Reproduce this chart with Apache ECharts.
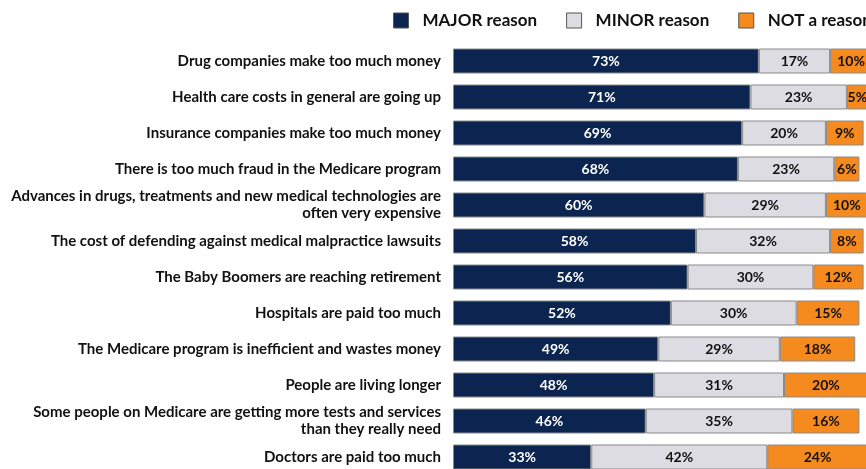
<!DOCTYPE html>
<html><head><meta charset="utf-8">
<script src="https://cdn.jsdelivr.net/npm/echarts@6/dist/echarts.min.js"></script>
<style>html,body{margin:0;padding:0;background:#fff}#c{width:866px;height:469px}</style>
</head><body><div id="c"></div>
<script>
const categories = [
  "Drug companies make too much money",
  "Health care costs in general are going up",
  "Insurance companies make too much money",
  "There is too much fraud in the Medicare program",
  "Advances in drugs, treatments and new medical technologies are\noften very expensive",
  "The cost of defending against medical malpractice lawsuits",
  "The Baby Boomers are reaching retirement",
  "Hospitals are paid too much",
  "The Medicare program is inefficient and wastes money",
  "People are living longer",
  "Some people on Medicare are getting more tests and services\nthan they really need",
  "Doctors are paid too much"
];
const majorReason = [73, 71, 69, 68, 60, 58, 56, 52, 49, 48, 46, 33];
const minorReason = [17, 23, 20, 23, 29, 32, 30, 30, 29, 31, 35, 42];
const notReason   = [10, 5, 9, 6, 10, 8, 12, 15, 18, 20, 16, 24];
const seriesNames = ["MAJOR reason", "MINOR reason", "NOT a reason"];

const FONT = "Lato";
const colors = ["#0c2550", "#dcdce2", "#f58a1f"];
const labelColors = ["#ffffff", "#111111", "#111111"];
const datasets = [majorReason, minorReason, notReason];

const legendText = { fontFamily: FONT, fontWeight: 'bold', fontSize: 17, color: '#111', padding: [0, 0, 0, 9] };

const chart = echarts.init(document.getElementById('c'));
chart.setOption({
  animation: false,
  textStyle: { fontFamily: FONT },
  legend: {
    left: 393, top: 12, width: 700, orient: 'horizontal', padding: 0,
    itemWidth: 15, itemHeight: 15, itemGap: 29,
    textStyle: legendText,
    data: seriesNames.map((n, i) => ({ name: n, icon: 'rect', textStyle: legendText, itemStyle: { borderColor: '#555', borderWidth: 1 } }))
  },
  grid: { left: 453, top: 43, width: 419, height: 432, containLabel: false, outerBoundsMode: 'none' },
  xAxis: { type: 'value', min: 0, max: 100, show: false },
  yAxis: {
    type: 'category', data: categories, inverse: true,
    axisLine: { show: false }, axisTick: { show: false },
    axisLabel: { margin: 12, fontFamily: FONT, fontWeight: 'bold', fontSize: 15, color: '#111', lineHeight: 17, align: 'right' }
  },
  series: seriesNames.map((n, i) => ({
    name: n, type: 'bar', stack: 'all', barWidth: 25,
    data: datasets[i],
    itemStyle: { color: colors[i], borderColor: '#8a8a8a', borderWidth: 1 },
    label: { show: true, position: 'inside', formatter: '{c}%', color: labelColors[i], fontFamily: FONT, fontWeight: 'bold', fontSize: 14 }
  }))
});
</script></body></html>
